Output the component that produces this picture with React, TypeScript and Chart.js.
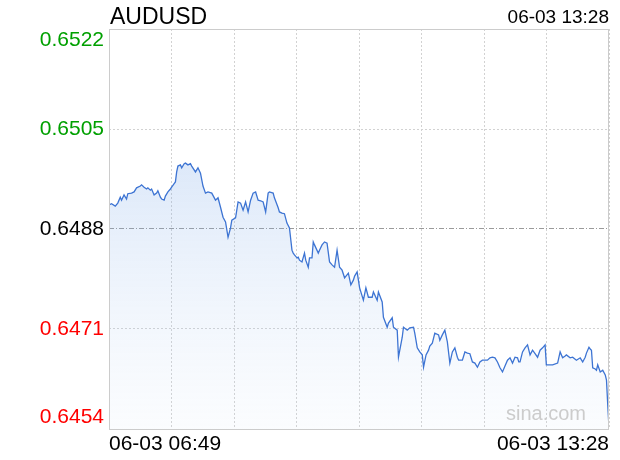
import { useEffect, useRef } from "react";
import { Chart, registerables } from "chart.js";

Chart.register(...registerables);

const symbol = "AUDUSD";
const dateLabel = "06-03";
const startTime = "06:49";
const endTime = "13:28";
const watermark = "sina.com";
const prevClose = 0.6488;
const yTicks = [0.6454, 0.6471, 0.6488, 0.6505, 0.6522];

// minutes elapsed since 06:49
const minutes = [
  0, 2, 5, 7, 9, 10, 12, 14, 15, 18, 20, 22, 25, 26, 28, 30, 31, 33, 34, 36,
  38, 39, 41, 42, 44, 45, 47, 49, 50, 52, 53, 54, 55, 57, 58, 60, 61, 63, 65, 66,
  69, 71, 73, 75, 77, 79, 82, 85, 87, 89, 91, 93, 95, 97, 98, 101, 103, 105, 107, 109,
  111, 113, 115, 117, 119, 121, 123, 125, 127, 128, 131, 132, 135, 136, 138, 140, 142, 144, 146, 147,
  148, 150, 151, 152, 154, 156, 157, 159, 160, 162, 163, 164, 167, 168, 170, 172, 174, 176, 178, 180,
  182, 184, 186, 188, 191, 193, 195, 196, 198, 200, 203, 205, 207, 210, 211, 214, 215, 218, 219, 222,
  223, 226, 227, 230, 231, 234, 235, 238, 240, 243, 244, 246, 248, 250, 251, 253, 255, 256, 258, 260,
  263, 264, 266, 268, 270, 272, 274, 276, 278, 279, 282, 284, 286, 288, 290, 292, 294, 296, 298, 302,
  304, 306, 308, 310, 312, 314, 316, 318, 320, 322, 324, 326, 327, 328, 330, 332, 334, 336, 338, 340,
  342, 344, 346, 348, 349, 352, 354, 358, 360, 362, 364, 365, 368, 370, 373, 376, 378, 380, 381, 383,
  384, 385, 386, 388, 389, 390, 392, 394, 396, 397, 398, 399,
];

const prices = [
  0.64921, 0.64923, 0.64919, 0.64924, 0.64934, 0.64929, 0.64938, 0.64931, 0.6494, 0.64941,
  0.64943, 0.6495, 0.64953, 0.64955, 0.64951, 0.64948, 0.6495, 0.64946, 0.64948, 0.64938,
  0.64941, 0.64945, 0.64934, 0.64931, 0.64929, 0.64936, 0.64943, 0.64948, 0.64951, 0.64957,
  0.6496, 0.64977, 0.64987, 0.64989, 0.64984, 0.64991, 0.64992, 0.64989, 0.64991, 0.64987,
  0.64977, 0.64984, 0.64975, 0.64953, 0.64941, 0.64943, 0.64941, 0.64929, 0.64933, 0.64917,
  0.649, 0.64892, 0.64866, 0.64882, 0.64895, 0.64899, 0.64926, 0.64924, 0.64912, 0.64926,
  0.64909, 0.64929, 0.64941, 0.64943, 0.64929, 0.64928, 0.64926, 0.64909, 0.64941, 0.64943,
  0.64941, 0.64933, 0.64916, 0.64909, 0.64907, 0.64906, 0.6489, 0.64882, 0.64844, 0.64839,
  0.64836, 0.64831, 0.64832, 0.64827, 0.64824, 0.64839, 0.64827, 0.64815, 0.64831, 0.64831,
  0.64858, 0.64853, 0.64839, 0.64844, 0.64853, 0.64858, 0.64856, 0.64824, 0.64819, 0.64815,
  0.64844, 0.64815, 0.6481, 0.64797, 0.64805, 0.64785, 0.64793, 0.648, 0.64807, 0.6478,
  0.64759, 0.6478, 0.64764, 0.64764, 0.64773, 0.64759, 0.64773, 0.64756, 0.6473, 0.64713,
  0.6472, 0.64729, 0.64713, 0.64708, 0.64662, 0.64696, 0.64713, 0.64708, 0.64712, 0.64713,
  0.64703, 0.64678, 0.64671, 0.64666, 0.64645, 0.64666, 0.64674, 0.64681, 0.64686, 0.64703,
  0.647, 0.64691, 0.647, 0.64708, 0.64688, 0.64652, 0.64671, 0.64678, 0.64662, 0.64657,
  0.64657, 0.64671, 0.64669, 0.64668, 0.64654, 0.64652, 0.64645, 0.64654, 0.64657, 0.64657,
  0.64661, 0.64662, 0.64661, 0.64654, 0.64644, 0.64637, 0.64647, 0.64657, 0.64661, 0.64652,
  0.64662, 0.64661, 0.64654, 0.64654, 0.64671, 0.64678, 0.64683, 0.64666, 0.64674, 0.64668,
  0.64662, 0.64674, 0.64678, 0.64683, 0.64649, 0.64649, 0.64649, 0.64652, 0.64671, 0.64661,
  0.64664, 0.64666, 0.64661, 0.64662, 0.64657, 0.64661, 0.64654, 0.64662, 0.64669, 0.64679,
  0.64676, 0.64674, 0.64644, 0.64642, 0.6464, 0.64649, 0.64637, 0.6464, 0.64632, 0.64623,
  0.64581, 0.64542,
];

const FONT = "'Liberation Sans', Arial, Helvetica, sans-serif";

function toMin(t: string) {
  const [h, m] = t.split(":").map(Number);
  return h * 60 + m;
}

export default function App() {
  const ref = useRef<HTMLCanvasElement>(null);

  useEffect(() => {
    document.body.style.margin = "0";
    const canvas = ref.current;
    if (!canvas) return;
    const span = toMin(endTime) - toMin(startTime);
    const yMin = yTicks[0];
    const yMax = yTicks[yTicks.length - 1];
    const near = (a: number, b: number) => Math.abs(a - b) < 1e-7;

    const decor = {
      id: "decor",
      afterDraw(chart: any) {
        const { ctx, chartArea: a } = chart;
        ctx.save();
        ctx.strokeStyle = "#cccccc";
        ctx.lineWidth = 1;
        ctx.setLineDash([]);
        ctx.strokeRect(Math.round(a.left) + 0.5, Math.round(a.top) + 0.5, Math.round(a.right - a.left) - 1, Math.round(a.bottom - a.top));
        ctx.fillStyle = "#000";
        ctx.textBaseline = "alphabetic";
        ctx.font = `23px ${FONT}`;
        ctx.textAlign = "left";
        ctx.fillText(symbol, 110, 24);
        ctx.font = `19px ${FONT}`;
        ctx.textAlign = "right";
        ctx.fillText(`${dateLabel} ${endTime}`, 609, 23);
        ctx.fillStyle = "#cccccc";
        ctx.font = `20px ${FONT}`;
        ctx.fillText(watermark, 586, 420);
        ctx.restore();
      },
    };

    const chart = new Chart(canvas, {
      type: "line",
      data: {
        datasets: [
          {
            data: minutes.map((m, i) => ({ x: m, y: prices[i] })),
            borderColor: "#3d74d3",
            borderWidth: 1.3,
            pointRadius: 0,
            tension: 0,
            fill: "start",
            backgroundColor: (c: any) => {
              const a = c.chart.chartArea;
              if (!a) return "rgba(120,165,230,0.2)";
              const g = c.chart.ctx.createLinearGradient(0, a.top + 130, 0, a.bottom);
              g.addColorStop(0, "rgba(110,160,230,0.24)");
              g.addColorStop(1, "rgba(200,220,245,0.08)");
              return g;
            },
          },
        ],
      },
      options: {
        responsive: false,
        animation: false,
        layout: { padding: { top: 29, right: 11, left: 0, bottom: 0 } },
        plugins: {
          legend: { display: false },
          tooltip: { enabled: false },
          title: { display: false },
        },
        scales: {
          x: {
            type: "linear",
            min: 0,
            max: span,
            afterBuildTicks: (s: any) => {
              s.ticks = Array.from({ length: 9 }, (_, i) => ({ value: (span * i) / 8 }));
            },
            afterFit: (s: any) => {
              s.height = 31;
            },
            grid: { color: "#d2d2d2", drawTicks: false, lineWidth: 1 },
            border: { display: false, dash: [2, 2] },
            ticks: {
              autoSkip: false,
              maxRotation: 0,
              align: "inner",
              padding: 3,
              color: "#000",
              font: { family: FONT, size: 21 },
              callback: (_v: any, i: number, arr: any[]) =>
                i === 0 ? `${dateLabel} ${startTime}` : i === arr.length - 1 ? `${dateLabel} ${endTime}` : "",
            },
          },
          y: {
            type: "linear",
            min: yMin,
            max: yMax,
            afterBuildTicks: (s: any) => {
              s.ticks = yTicks.map((v) => ({ value: v }));
            },
            afterFit: (s: any) => {
              s.width = 109;
            },
            grid: {
              drawTicks: false,
              lineWidth: 1,
              color: (c: any) => (c.tick && near(c.tick.value, prevClose) ? "#9a9a9a" : "#d2d2d2"),
            },
            border: {
              display: false,
              dash: (c: any) => (c.tick && near(c.tick.value, prevClose) ? [5, 2, 1, 2] : [2, 2]),
            },
            ticks: {
              padding: 5,
              font: { family: FONT, size: 21, lineHeight: 1.1 },
              color: (c: any) =>
                near(c.tick.value, prevClose) ? "#000000" : c.tick.value > prevClose ? "#00a000" : "#ff0000",
              callback: (v: any) => {
                const s = Number(v).toFixed(4);
                if (near(Number(v), yMax)) return ["", s];
                if (near(Number(v), yMin)) return [s, ""];
                return s;
              },
            },
          },
        },
      } as any,
      plugins: [decor],
    });
    return () => chart.destroy();
  }, []);

  return (
    <div style={{ width: 620, height: 460 }}>
      <canvas ref={ref} width={620} height={460} style={{ display: "block" }} />
    </div>
  );
}
